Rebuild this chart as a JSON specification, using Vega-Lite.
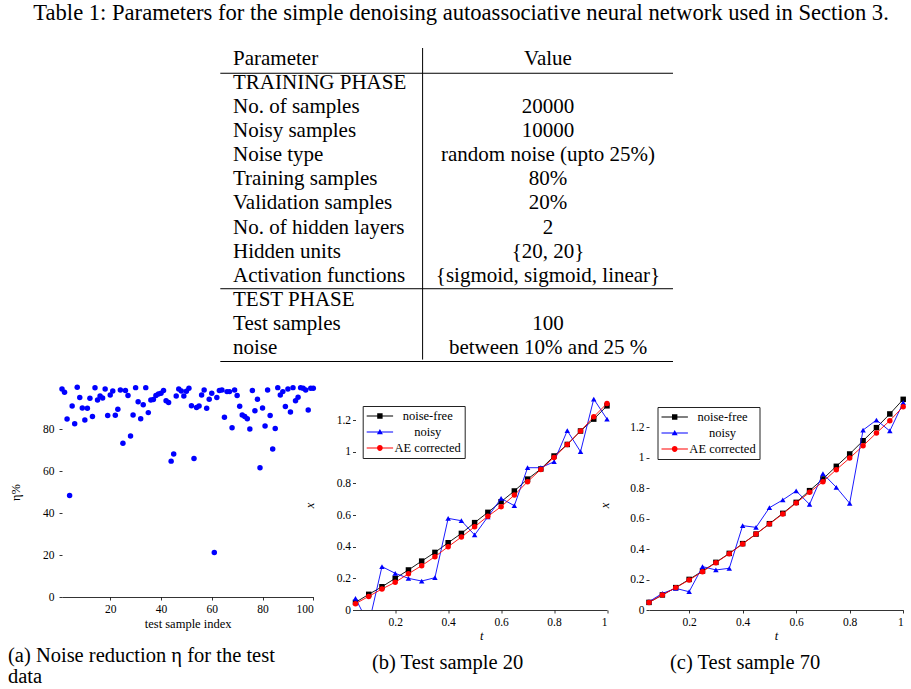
{
  "$schema": "https://vega.github.io/schema/vega-lite/v6.json",
  "background": "white",
  "padding": {"left": 8, "top": 1, "right": 0, "bottom": 0},
  "config": {
    "view": {"stroke": null},
    "font": "Liberation Serif",
    "axis": {"domainColor": "#000", "tickColor": "#000", "labelColor": "#000", "titleColor": "#000", "labelFont": "Liberation Serif", "titleFont": "Liberation Serif", "labelFontSize": 11.5, "titleFontSize": 12.5, "titleFontWeight": "normal", "grid": false, "tickSize": 3, "domainWidth": 0.8, "tickWidth": 0.8, "labelPadding": 2},
    "legend": {"labelFont": "Liberation Serif"},
    "title": {"font": "Liberation Serif", "fontWeight": "normal", "color": "#000"}
  },
  "datasets": {
    "table": [
      {"row": 0, "param": "Parameter", "value": "Value"},
      {"row": 1, "param": "TRAINING PHASE", "value": ""},
      {"row": 2, "param": "No. of samples", "value": "20000"},
      {"row": 3, "param": "Noisy samples", "value": "10000"},
      {"row": 4, "param": "Noise type", "value": "random noise (upto 25%)"},
      {"row": 5, "param": "Training samples", "value": "80%"},
      {"row": 6, "param": "Validation samples", "value": "20%"},
      {"row": 7, "param": "No. of hidden layers", "value": "2"},
      {"row": 8, "param": "Hidden units", "value": "{20, 20}"},
      {"row": 9, "param": "Activation functions", "value": "{sigmoid, sigmoid, linear}"},
      {"row": 10, "param": "TEST PHASE", "value": ""},
      {"row": 11, "param": "Test samples", "value": "100"},
      {"row": 12, "param": "noise", "value": "between 10% and 25 %"}
    ],
    "eta": [
      {"i":1,"eta":99.1},{"i":2,"eta":97.5},{"i":3,"eta":84.8},{"i":4,"eta":48.3},{"i":5,"eta":91},
      {"i":6,"eta":82.5},{"i":7,"eta":99.9},{"i":8,"eta":95},{"i":9,"eta":90},{"i":10,"eta":84.3},
      {"i":11,"eta":89.9},{"i":12,"eta":94.6},{"i":13,"eta":85.9},{"i":14,"eta":99.6},{"i":15,"eta":93.8},
      {"i":16,"eta":95.7},{"i":17,"eta":94.8},{"i":18,"eta":99.1},{"i":19,"eta":86.4},{"i":20,"eta":96.2},
      {"i":21,"eta":98.1},{"i":22,"eta":86.5},{"i":23,"eta":89.4},{"i":24,"eta":98.6},{"i":25,"eta":73.2},
      {"i":26,"eta":98.3},{"i":27,"eta":95.9},{"i":28,"eta":76.7},{"i":29,"eta":86.7},{"i":30,"eta":99.7},
      {"i":31,"eta":93},{"i":32,"eta":84.9},{"i":33,"eta":91.5},{"i":34,"eta":99.7},{"i":35,"eta":87.8},
      {"i":36,"eta":93.8},{"i":37,"eta":94},{"i":38,"eta":95.9},{"i":39,"eta":96.7},{"i":40,"eta":97},
      {"i":41,"eta":98.3},{"i":42,"eta":93.5},{"i":43,"eta":92.6},{"i":44,"eta":64.7},{"i":45,"eta":68.1},
      {"i":46,"eta":95.7},{"i":47,"eta":99.1},{"i":48,"eta":98.1},{"i":49,"eta":95.7},{"i":50,"eta":98},
      {"i":51,"eta":99.4},{"i":52,"eta":91.1},{"i":53,"eta":66},{"i":54,"eta":90.2},{"i":55,"eta":91},
      {"i":56,"eta":96.2},{"i":57,"eta":98.6},{"i":58,"eta":89.9},{"i":59,"eta":94.2},{"i":60,"eta":97},
      {"i":61,"eta":21.2},{"i":62,"eta":95},{"i":63,"eta":98.3},{"i":64,"eta":98.6},{"i":65,"eta":85.6},
      {"i":66,"eta":97.8},{"i":67,"eta":97.8},{"i":68,"eta":80.6},{"i":69,"eta":98.6},{"i":70,"eta":95.9},
      {"i":71,"eta":90.8},{"i":72,"eta":86.7},{"i":73,"eta":85.9},{"i":74,"eta":84.9},{"i":75,"eta":80},
      {"i":76,"eta":98.3},{"i":77,"eta":88.7},{"i":78,"eta":94.2},{"i":79,"eta":61.6},{"i":80,"eta":90},
      {"i":81,"eta":81.4},{"i":82,"eta":98.6},{"i":83,"eta":86.4},{"i":84,"eta":70.5},{"i":85,"eta":80.2},
      {"i":86,"eta":99.7},{"i":87,"eta":96.2},{"i":88,"eta":97.8},{"i":89,"eta":90.7},{"i":90,"eta":99.1},
      {"i":91,"eta":88.1},{"i":92,"eta":99.7},{"i":93,"eta":93.4},{"i":94,"eta":95.1},{"i":95,"eta":99.7},
      {"i":96,"eta":99.4},{"i":97,"eta":98.6},{"i":98,"eta":89.1},{"i":99,"eta":99.4},{"i":100,"eta":99.4}
    ],
    "s20": [
      {"t":0.05,"noise-free":0.048,"noisy":0.074,"AE corrected":0.04},
      {"t":0.1,"noise-free":0.099,"noisy":-0.09,"AE corrected":0.086},
      {"t":0.15,"noise-free":0.147,"noisy":0.274,"AE corrected":0.133},
      {"t":0.2,"noise-free":0.2,"noisy":0.232,"AE corrected":0.175},
      {"t":0.25,"noise-free":0.253,"noisy":0.2,"AE corrected":0.229},
      {"t":0.3,"noise-free":0.309,"noisy":0.183,"AE corrected":0.28},
      {"t":0.35,"noise-free":0.364,"noisy":0.204,"AE corrected":0.337},
      {"t":0.4,"noise-free":0.425,"noisy":0.579,"AE corrected":0.4},
      {"t":0.45,"noise-free":0.484,"noisy":0.564,"AE corrected":0.461},
      {"t":0.5,"noise-free":0.552,"noisy":0.474,"AE corrected":0.526},
      {"t":0.55,"noise-free":0.617,"noisy":0.589,"AE corrected":0.592},
      {"t":0.6,"noise-free":0.684,"noisy":0.705,"AE corrected":0.653},
      {"t":0.65,"noise-free":0.752,"noisy":0.659,"AE corrected":0.726},
      {"t":0.7,"noise-free":0.827,"noisy":0.899,"AE corrected":0.811},
      {"t":0.75,"noise-free":0.891,"noisy":0.899,"AE corrected":0.888},
      {"t":0.8,"noise-free":0.973,"noisy":0.937,"AE corrected":0.964},
      {"t":0.85,"noise-free":1.046,"noisy":1.133,"AE corrected":1.046},
      {"t":0.9,"noise-free":1.131,"noisy":1.0,"AE corrected":1.131},
      {"t":0.95,"noise-free":1.206,"noisy":1.333,"AE corrected":1.221},
      {"t":1.0,"noise-free":1.29,"noisy":1.206,"AE corrected":1.305}
    ],
    "s70": [
      {"t":0.05,"noise-free":0.05,"noisy":0.055,"AE corrected":0.05},
      {"t":0.1,"noise-free":0.099,"noisy":0.109,"AE corrected":0.099},
      {"t":0.15,"noise-free":0.147,"noisy":0.142,"AE corrected":0.147},
      {"t":0.2,"noise-free":0.201,"noisy":0.12,"AE corrected":0.197},
      {"t":0.25,"noise-free":0.256,"noisy":0.285,"AE corrected":0.252},
      {"t":0.3,"noise-free":0.313,"noisy":0.263,"AE corrected":0.311},
      {"t":0.35,"noise-free":0.372,"noisy":0.274,"AE corrected":0.37},
      {"t":0.4,"noise-free":0.436,"noisy":0.554,"AE corrected":0.434},
      {"t":0.45,"noise-free":0.499,"noisy":0.543,"AE corrected":0.499},
      {"t":0.5,"noise-free":0.567,"noisy":0.672,"AE corrected":0.565},
      {"t":0.55,"noise-free":0.635,"noisy":0.723,"AE corrected":0.631},
      {"t":0.6,"noise-free":0.707,"noisy":0.782,"AE corrected":0.703},
      {"t":0.65,"noise-free":0.784,"noisy":0.694,"AE corrected":0.773},
      {"t":0.7,"noise-free":0.861,"noisy":0.896,"AE corrected":0.843},
      {"t":0.75,"noise-free":0.944,"noisy":0.806,"AE corrected":0.922},
      {"t":0.8,"noise-free":1.025,"noisy":0.701,"AE corrected":0.998},
      {"t":0.85,"noise-free":1.112,"noisy":1.182,"AE corrected":1.079},
      {"t":0.9,"noise-free":1.198,"noisy":1.248,"AE corrected":1.163},
      {"t":0.95,"noise-free":1.288,"noisy":1.176,"AE corrected":1.244},
      {"t":1.0,"noise-free":1.384,"noisy":1.362,"AE corrected":1.336}
    ]
  },
  "spacing": 22,
  "vconcat": [
    {
      "width": 840,
      "height": 313.5,
      "data": {"name": "table"},
      "title": {"text": "Table 1: Parameters for the simple denoising autoassociative neural network used in Section 3.", "anchor": "start", "frame": "group", "dx": -28.7, "offset": 23, "fontSize": 22.6},
      "layer": [
        {
          "mark": {"type": "text", "align": "left", "baseline": "middle", "font": "Liberation Serif", "fontSize": 21, "color": "#000"},
          "encoding": {
            "x": {"datum": 0.2036, "type": "quantitative", "scale": {"domain": [0, 1], "nice": false, "zero": false}, "axis": null},
            "y": {"field": "row", "type": "quantitative", "scale": {"domain": [-0.45, 12.56], "reverse": true, "nice": false, "zero": false}, "axis": null},
            "text": {"field": "param"}
          }
        },
        {
          "mark": {"type": "text", "align": "center", "baseline": "middle", "font": "Liberation Serif", "fontSize": 21, "color": "#000"},
          "encoding": {
            "x": {"datum": 0.5786, "type": "quantitative"},
            "y": {"field": "row", "type": "quantitative"},
            "text": {"field": "value"}
          }
        },
        {
          "data": {"values": [{"b": 0.598}, {"b": 9.54}, {"b": 12.56}]},
          "mark": {"type": "rule", "color": "#000", "strokeWidth": 1},
          "encoding": {
            "x": {"datum": 0.18845, "type": "quantitative"},
            "x2": {"datum": 0.72738},
            "y": {"field": "b", "type": "quantitative"}
          }
        },
        {
          "data": {"values": [{}]},
          "mark": {"type": "rule", "color": "#000", "strokeWidth": 1},
          "encoding": {
            "x": {"datum": 0.42929, "type": "quantitative"},
            "y": {"datum": -0.45, "type": "quantitative"},
            "y2": {"datum": 12.48}
          }
        }
      ]
    },
    {
      "hconcat": [
        {
          "width": 251.3,
          "height": 223,
          "data": {"name": "eta"},
          "title": {"text": ["(a) Noise reduction η for the test", "data"], "orient": "bottom", "anchor": "start", "frame": "group", "dx": -54, "offset": 16, "fontSize": 20.5, "lineHeight": 21, "align": "left"},
          "encoding": {
            "x": {"field": "i", "type": "quantitative", "scale": {"domain": [1, 100], "nice": false, "zero": false}, "axis": {"values": [20, 40, 60, 80, 100], "title": "test sample index", "offset": -13, "titlePadding": 3, "labelPadding": 3}},
            "y": {"field": "eta", "type": "quantitative", "scale": {"domain": [-6.19, 100], "nice": false, "zero": false}, "axis": {"values": [0, 20, 40, 60, 80], "title": "η%", "domain": false, "titleX": -46.7, "titleY": 105, "titleBaseline": "middle", "titleAngle": 270, "labelPadding": 5}}
          },
          "layer": [
            {
              "data": {"values": [{}]},
              "mark": {"type": "rule", "color": "#000", "strokeWidth": 0.8},
              "encoding": {"x": {"datum": 1}, "y": {"datum": 0}, "y2": {"datum": 100}}
            },
            {
              "data": {"values": [{}]},
              "mark": {"type": "point", "shape": "triangle-right", "filled": true, "color": "#000", "size": 18, "opacity": 1},
              "encoding": {"x": {"datum": 100}, "y": {"datum": 0}}
            },
            {
              "mark": {"type": "circle", "color": "#0000ff", "size": 30, "opacity": 1}
            }
          ]
        },
        {
          "width": 251.5,
          "height": 223,
          "data": {"name": "s20"},
          "transform": [{"fold": ["noise-free", "noisy", "AE corrected"], "as": ["key", "value"]}],
          "title": {"text": "(b) Test sample 20", "orient": "bottom", "anchor": "middle", "frame": "group", "dx": -33.7, "offset": 11, "fontSize": 20.5},
          "encoding": {
            "x": {"field": "t", "type": "quantitative", "scale": {"domain": [0.05, 1], "nice": false, "zero": false}, "axis": {"values": [0.2, 0.4, 0.6, 0.8, 1], "format": "~g", "title": "t", "titleFontStyle": "italic", "titlePadding": 2, "labelPadding": 3}},
            "y": {"field": "value", "type": "quantitative", "scale": {"domain": [0, 1.409], "nice": false, "zero": false}, "axis": {"values": [0, 0.2, 0.4, 0.6, 0.8, 1, 1.2], "format": "~g", "title": "x", "titleFontStyle": "italic", "domain": false, "titleX": -46.5, "titleY": 118, "titleBaseline": "middle", "titleAngle": 270}}
          },
          "layer": [
            {
              "data": {"values": [{}]},
              "mark": {"type": "rule", "color": "#000", "strokeWidth": 0.8},
              "encoding": {"x": {"datum": 0.05}, "y": {"datum": 0}, "y2": {"datum": 1.33}}
            },
            {
              "data": {"values": [{}]},
              "mark": {"type": "point", "shape": "triangle-up", "filled": true, "color": "#000", "size": 18, "opacity": 1},
              "encoding": {"x": {"datum": 0.05}, "y": {"datum": 1.33}}
            },
            {
              "data": {"values": [{}]},
              "mark": {"type": "point", "shape": "triangle-right", "filled": true, "color": "#000", "size": 18, "opacity": 1},
              "encoding": {"x": {"datum": 1}, "y": {"datum": 0}}
            },
            {
              "transform": [{"filter": "datum.key === 'noise-free'"}],
              "mark": {"type": "line", "color": "#000", "strokeWidth": 0.9}
            },
            {
              "transform": [{"filter": "datum.key === 'noise-free'"}],
              "mark": {"type": "point", "shape": "square", "filled": true, "color": "#000", "size": 30, "opacity": 1}
            },
            {
              "transform": [{"filter": "datum.key === 'noisy'"}],
              "mark": {"type": "line", "color": "#0000ff", "strokeWidth": 0.9, "clip": true}
            },
            {
              "transform": [{"filter": "datum.key === 'noisy' && datum.value >= 0"}],
              "mark": {"type": "point", "shape": "triangle-up", "filled": true, "color": "#0000ff", "size": 30, "opacity": 1}
            },
            {
              "transform": [{"filter": "datum.key === 'AE corrected'"}],
              "mark": {"type": "line", "color": "#ff0000", "strokeWidth": 0.9}
            },
            {
              "transform": [{"filter": "datum.key === 'AE corrected'"}],
              "mark": {"type": "point", "shape": "circle", "filled": true, "color": "#ff0000", "size": 30, "opacity": 1}
            },
            {
              "transform": [{"filter": "false"}],
              "mark": {"type": "point", "filled": true, "opacity": 1},
              "encoding": {
                "color": {"field": "key", "type": "nominal", "scale": {"domain": ["noise-free", "noisy", "AE corrected"], "range": ["#000000", "#0000ff", "#ff0000"]}, "legend": {"title": null, "orient": "none", "legendX": 7.2, "legendY": 19, "strokeColor": "#222", "fillColor": "white", "padding": 3, "labelFont": "Liberation Serif", "labelFontSize": 12.5, "labelColor": "#000", "labelAlign": "center", "labelOffset": 48, "symbolSize": 144, "rowPadding": 2, "zindex": 2}},
                "shape": {"field": "key", "type": "nominal", "scale": {"domain": ["noise-free", "noisy", "AE corrected"], "range": ["M-1,-0.07H3.4V0.07H-1Z M0.75,-0.45H1.65V0.45H0.75Z", "M-1,-0.07H3.4V0.07H-1Z M1.2,-0.52L1.7,0.36H0.7Z", "M-1,-0.07H3.4V0.07H-1Z M1.68,0A0.48,0.48 0 1,1 0.72,0A0.48,0.48 0 1,1 1.68,0Z"]}, "legend": {"title": null, "orient": "none", "legendX": 7.2, "legendY": 19, "strokeColor": "#222", "fillColor": "white", "padding": 3, "labelFont": "Liberation Serif", "labelFontSize": 12.5, "labelColor": "#000", "labelAlign": "center", "labelOffset": 48, "symbolSize": 144, "rowPadding": 2, "zindex": 2}}
              }
            }
          ]
        },
        {
          "width": 254.2,
          "height": 223,
          "data": {"name": "s70"},
          "transform": [{"fold": ["noise-free", "noisy", "AE corrected"], "as": ["key", "value"]}],
          "title": {"text": "(c) Test sample 70", "orient": "bottom", "anchor": "middle", "frame": "group", "dx": -31, "offset": 11, "fontSize": 20.5},
          "encoding": {
            "x": {"field": "t", "type": "quantitative", "scale": {"domain": [0.05, 1], "nice": false, "zero": false}, "axis": {"values": [0.2, 0.4, 0.6, 0.8, 1], "format": "~g", "title": "t", "titleFontStyle": "italic", "titlePadding": 2, "labelPadding": 3}},
            "y": {"field": "value", "type": "quantitative", "scale": {"domain": [0, 1.465], "nice": false, "zero": false}, "axis": {"values": [0, 0.2, 0.4, 0.6, 0.8, 1, 1.2], "format": "~g", "title": "x", "titleFontStyle": "italic", "domain": false, "titleX": -44.5, "titleY": 118, "titleBaseline": "middle", "titleAngle": 270}}
          },
          "layer": [
            {
              "data": {"values": [{}]},
              "mark": {"type": "rule", "color": "#000", "strokeWidth": 0.8},
              "encoding": {"x": {"datum": 0.05}, "y": {"datum": 0}, "y2": {"datum": 1.385}}
            },
            {
              "data": {"values": [{}]},
              "mark": {"type": "point", "shape": "triangle-up", "filled": true, "color": "#000", "size": 18, "opacity": 1},
              "encoding": {"x": {"datum": 0.05}, "y": {"datum": 1.385}}
            },
            {
              "data": {"values": [{}]},
              "mark": {"type": "point", "shape": "triangle-right", "filled": true, "color": "#000", "size": 18, "opacity": 1},
              "encoding": {"x": {"datum": 1}, "y": {"datum": 0}}
            },
            {
              "transform": [{"filter": "datum.key === 'noise-free'"}],
              "mark": {"type": "line", "color": "#000", "strokeWidth": 0.9}
            },
            {
              "transform": [{"filter": "datum.key === 'noise-free'"}],
              "mark": {"type": "point", "shape": "square", "filled": true, "color": "#000", "size": 30, "opacity": 1}
            },
            {
              "transform": [{"filter": "datum.key === 'noisy'"}],
              "mark": {"type": "line", "color": "#0000ff", "strokeWidth": 0.9, "clip": true}
            },
            {
              "transform": [{"filter": "datum.key === 'noisy' && datum.value >= 0"}],
              "mark": {"type": "point", "shape": "triangle-up", "filled": true, "color": "#0000ff", "size": 30, "opacity": 1}
            },
            {
              "transform": [{"filter": "datum.key === 'AE corrected'"}],
              "mark": {"type": "line", "color": "#ff0000", "strokeWidth": 0.9}
            },
            {
              "transform": [{"filter": "datum.key === 'AE corrected'"}],
              "mark": {"type": "point", "shape": "circle", "filled": true, "color": "#ff0000", "size": 30, "opacity": 1}
            },
            {
              "transform": [{"filter": "false"}],
              "mark": {"type": "point", "filled": true, "opacity": 1},
              "encoding": {
                "color": {"field": "key", "type": "nominal", "scale": {"domain": ["noise-free", "noisy", "AE corrected"], "range": ["#000000", "#0000ff", "#ff0000"]}, "legend": {"title": null, "orient": "none", "legendX": 8.5, "legendY": 20, "strokeColor": "#222", "fillColor": "white", "padding": 3, "labelFont": "Liberation Serif", "labelFontSize": 12.5, "labelColor": "#000", "labelAlign": "center", "labelOffset": 48, "symbolSize": 144, "rowPadding": 2, "zindex": 2}},
                "shape": {"field": "key", "type": "nominal", "scale": {"domain": ["noise-free", "noisy", "AE corrected"], "range": ["M-1,-0.07H3.4V0.07H-1Z M0.75,-0.45H1.65V0.45H0.75Z", "M-1,-0.07H3.4V0.07H-1Z M1.2,-0.52L1.7,0.36H0.7Z", "M-1,-0.07H3.4V0.07H-1Z M1.68,0A0.48,0.48 0 1,1 0.72,0A0.48,0.48 0 1,1 1.68,0Z"]}, "legend": {"title": null, "orient": "none", "legendX": 8.5, "legendY": 20, "strokeColor": "#222", "fillColor": "white", "padding": 3, "labelFont": "Liberation Serif", "labelFontSize": 12.5, "labelColor": "#000", "labelAlign": "center", "labelOffset": 48, "symbolSize": 144, "rowPadding": 2, "zindex": 2}}
              }
            }
          ]
        }
      ],
      "spacing": 41.5,
      "bounds": "flush",
      "resolve": {"scale": {"color": "independent", "shape": "independent"}}
    }
  ]
}
